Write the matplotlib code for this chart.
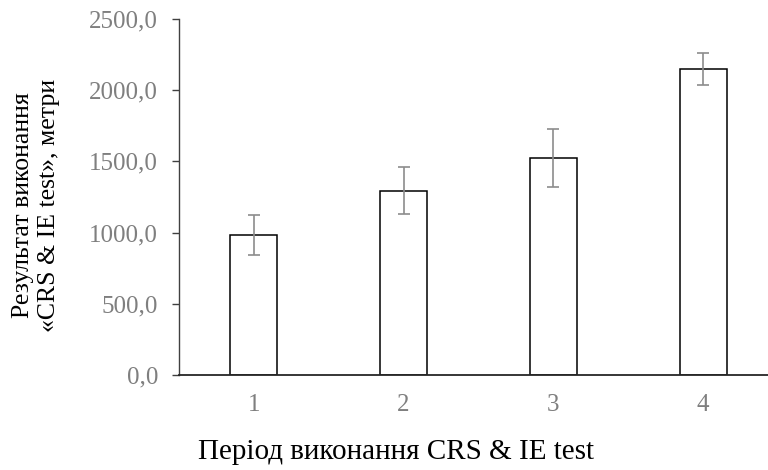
import matplotlib
matplotlib.use("Agg")
import matplotlib.pyplot as plt
from matplotlib.ticker import FuncFormatter

periods = ["1", "2", "3", "4"]
means = [983, 1294, 1526, 2151]
errors = [140, 165, 204, 111]
yticks = [0, 500, 1000, 1500, 2000, 2500]

plt.rcParams['font.family'] = ['Liberation Serif', 'DejaVu Serif']

fig = plt.figure(figsize=(7.68, 4.70), dpi=100)
ax = fig.add_axes([179/768, 1-375/470, 599/768, 356/470])

x = list(range(1, len(periods) + 1))
ax.bar(x, means, width=0.314, color='white', edgecolor='black', linewidth=1.1, zorder=2)
ax.errorbar(x, means, yerr=errors, fmt='none', ecolor='#8c8c8c', elinewidth=1.2,
            capsize=4.5, capthick=1.2, zorder=3)

ax.set_xlim(0.5, 4.5)
ax.set_ylim(0, 2500)
ax.set_yticks(yticks)
ax.yaxis.set_major_formatter(FuncFormatter(lambda v, p: f"{v:.1f}".replace('.', ',')))
ax.set_xticks(x)
ax.set_xticklabels(periods)

for s in ['top', 'right']:
    ax.spines[s].set_visible(False)
ax.spines['left'].set_color('#404040')
ax.spines['left'].set_linewidth(1.0)
ax.spines['bottom'].set_color('#262626')
ax.spines['bottom'].set_linewidth(1.3)

ax.tick_params(axis='y', direction='out', length=5, width=1.0, color='#404040',
               labelcolor='#7f7f7f', labelsize=18, pad=10)
ax.tick_params(axis='x', length=0, labelcolor='#7f7f7f', labelsize=18, pad=14)

ax.set_ylabel("Результат виконання\n«CRS & IE test», метри", fontsize=18.5,
              color='black', linespacing=1.2, va='center', ha='center')
ax.yaxis.set_label_coords((36 - 179) / 599, (375 - 205) / 356)
fig.text(396.5/768, 1-452/470, "Період виконання CRS & IE test",
         fontsize=21, ha='center', va='center', color='black')

fig.savefig("out.png", dpi=100)
